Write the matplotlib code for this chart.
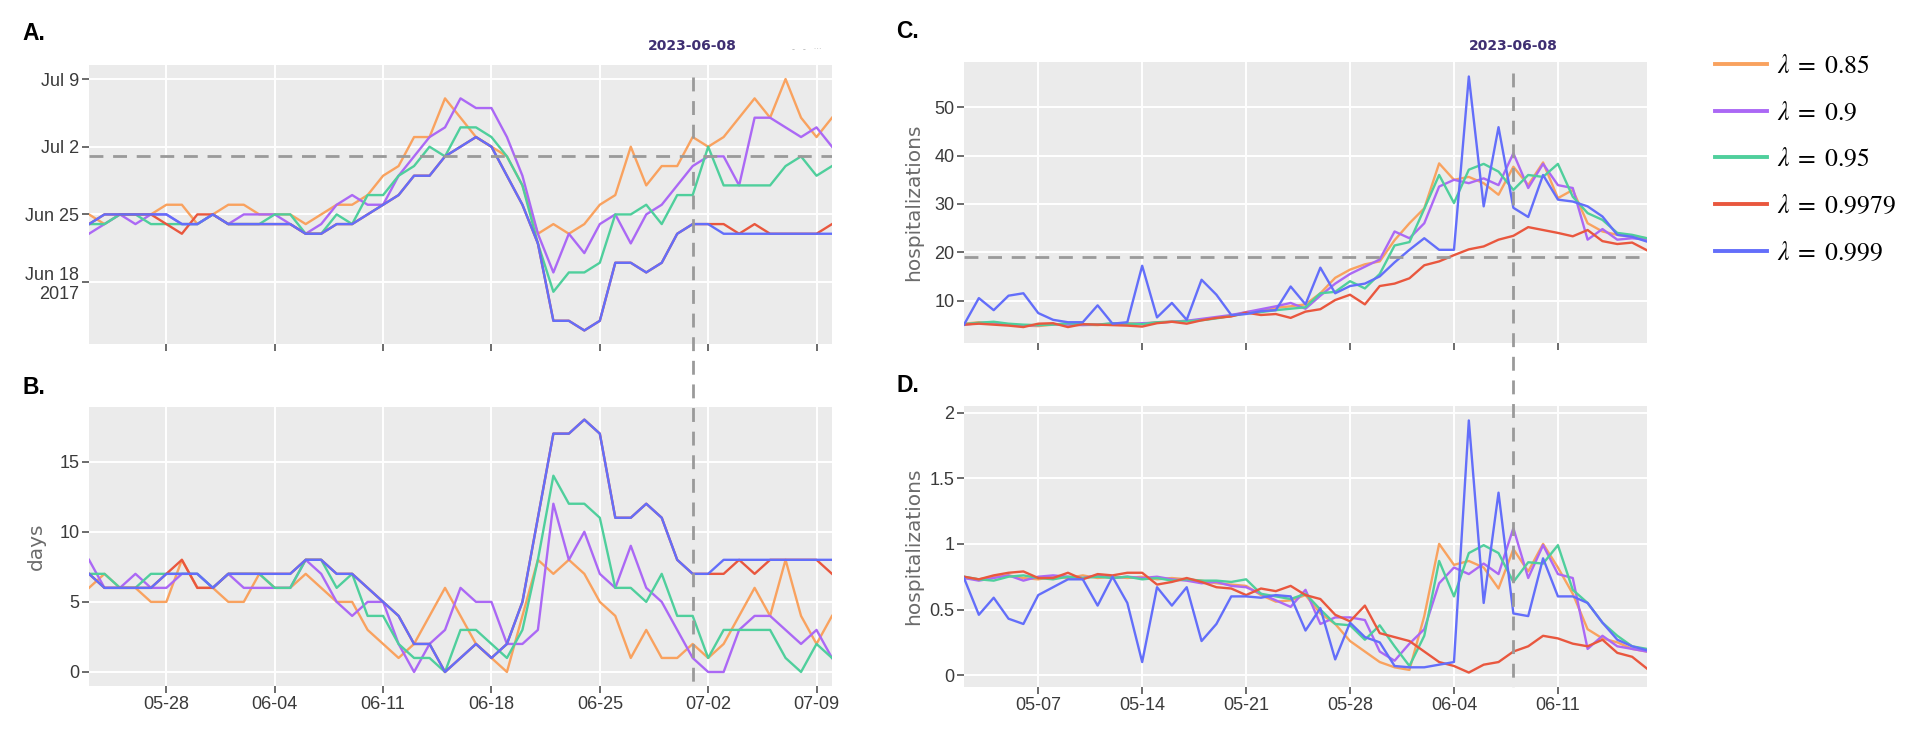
import numpy as np
import pandas as pd
import matplotlib
matplotlib.use("Agg")
import matplotlib.pyplot as plt
import matplotlib.dates as mdates
import matplotlib.transforms as mtransforms
from matplotlib.lines import Line2D

# ---------------- data ----------------
labels = [r"$\lambda\;=\;0.85$", r"$\lambda\;=\;0.9$", r"$\lambda\;=\;0.95$",
          r"$\lambda\;=\;0.9979$", r"$\lambda\;=\;0.999$"]
colors = ["#F9A25F", "#AB68F5", "#4FCF9C", "#E9573E", "#636EFA"]

ab_dates = pd.date_range("2023-05-23", "2023-07-10", freq="D")
cd_dates = pd.date_range("2023-05-02", "2023-06-17", freq="D")

# Panel A: estimated date, as day offsets from 2017-06-25
a_ref = pd.Timestamp("2017-06-25")
a_085 = [0, -1, 0, 0, 0, 1, 1, -1, 0, 1, 1, 0, 0, 0, -1, 0, 1, 1, 2, 4, 5, 8, 8, 12, 10,
         8, 7, 6, 3, -2, -1, -2, -1, 1, 2, 7, 3, 5, 5, 8, 7, 8, 10, 12, 10, 14, 10, 8, 10]
a_090 = [-2, -1, 0, -1, 0, 0, -1, -1, 0, -1, 0, 0, 0, -1, -2, -1, 1, 2, 1, 1, 4, 6, 8, 9, 12,
         11, 11, 8, 4, -2, -6, -2, -4, -1, 0, -3, 0, 1, 3, 5, 6, 6, 3, 10, 10, 9, 8, 9, 7]
a_095 = [-1, -1, 0, 0, -1, -1, -1, -1, 0, -1, -1, -1, 0, 0, -2, -2, 0, -1, 2, 2, 4, 5, 7, 6, 9,
         9, 8, 6, 3, -3, -8, -6, -6, -5, 0, 0, 1, -1, 2, 2, 7, 3, 3, 3, 3, 5, 6, 4, 5]
a_09979 = [-1, 0, 0, 0, 0, -1, -2, 0, 0, -1, -1, -1, -1, -1, -2, -2, -1, -1, 0, 1, 2, 4, 4, 6, 7,
           8, 7, 4, 1, -3, -11, -11, -12, -11, -5, -5, -6, -5, -2, -1, -1, -1, -2, -1, -2, -2, -2, -2, -1]
a_0999 = [-1, 0, 0, 0, 0, 0, -1, -1, 0, -1, -1, -1, -1, -1, -2, -2, -1, -1, 0, 1, 2, 4, 4, 6, 7,
          8, 7, 4, 1, -3, -11, -11, -12, -11, -5, -5, -6, -5, -2, -1, -1, -2, -2, -2, -2, -2, -2, -2, -2]

# Panel B: days
b_085 = [6, 7, 6, 6, 5, 5, 8, 6, 6, 5, 5, 7, 6, 6, 7, 6, 5, 5, 3, 2, 1, 2, 4, 6, 4,
         2, 1, 0, 4, 8, 7, 8, 7, 5, 4, 1, 3, 1, 1, 2, 1, 2, 4, 6, 4, 8, 4, 2, 4]
b_090 = [8, 6, 6, 7, 6, 6, 7, 7, 6, 7, 6, 6, 6, 6, 8, 7, 5, 4, 5, 5, 2, 0, 2, 3, 6,
         5, 5, 2, 2, 3, 12, 8, 10, 7, 6, 9, 6, 5, 3, 1, 0, 0, 3, 4, 4, 3, 2, 3, 1]
b_095 = [7, 7, 6, 6, 7, 7, 7, 7, 6, 7, 7, 7, 6, 6, 8, 8, 6, 7, 4, 4, 2, 1, 1, 0, 3,
         3, 2, 1, 3, 8, 14, 12, 12, 11, 6, 6, 5, 7, 4, 4, 1, 3, 3, 3, 3, 1, 0, 2, 1]
b_09979 = [7, 6, 6, 6, 6, 7, 8, 6, 6, 7, 7, 7, 7, 7, 8, 8, 7, 7, 6, 5, 4, 2, 2, 0, 1,
           2, 1, 2, 5, 11, 17, 17, 18, 17, 11, 11, 12, 11, 8, 7, 7, 7, 8, 7, 8, 8, 8, 8, 7]
b_0999 = [7, 6, 6, 6, 6, 7, 7, 7, 6, 7, 7, 7, 7, 7, 8, 8, 7, 7, 6, 5, 4, 2, 2, 0, 1,
          2, 1, 2, 5, 11, 17, 17, 18, 17, 11, 11, 12, 11, 8, 7, 7, 8, 8, 8, 8, 8, 8, 8, 8]

# Panel C: hospitalizations
c_085 = [5.2, 5.5, 5.2, 5.0, 4.8, 4.7, 5.0, 5.2, 5.0, 4.9, 5.2, 5.3, 5.2, 5.5, 5.6, 5.8,
         6.0, 6.4, 6.8, 7.6, 7.8, 8.5, 8.8, 9.2, 11.5, 14.7, 16.4, 17.5, 18.1, 22.5, 26.0,
         29.1, 38.4, 35.0, 35.6, 34.3, 31.9, 37.7, 33.9, 38.6, 31.2, 32.9, 26.0, 24.3, 23.6, 23.2, 22.9]
c_090 = [5.0, 5.3, 5.5, 5.0, 4.8, 4.9, 5.1, 5.0, 4.9, 5.0, 5.2, 5.1, 5.3, 5.4, 5.6, 5.8,
         6.2, 6.6, 7.0, 7.6, 8.2, 8.8, 9.5, 8.3, 11.0, 13.5, 15.5, 17.0, 18.5, 24.3, 22.9,
         26.0, 33.6, 35.0, 34.3, 35.3, 33.9, 40.5, 33.3, 38.3, 33.9, 33.3, 22.6, 24.8, 22.6, 22.9, 22.6]
c_095 = [5.1, 5.4, 5.6, 5.2, 5.0, 4.9, 5.0, 5.3, 5.1, 5.0, 5.3, 5.2, 5.1, 5.5, 5.6, 5.7,
         5.9, 6.3, 6.8, 7.3, 7.6, 8.0, 8.3, 8.6, 11.5, 11.8, 14.0, 12.5, 15.5, 21.4, 22.1,
         29.0, 36.0, 30.2, 37.1, 38.3, 36.7, 32.9, 36.0, 35.6, 38.3, 31.5, 28.1, 26.7, 24.0, 23.6, 22.9]
c_09979 = [5.0, 5.2, 5.0, 4.8, 4.5, 5.2, 5.3, 4.5, 5.1, 5.0, 4.9, 4.8, 4.6, 5.3, 5.6, 5.2,
           5.9, 6.4, 6.7, 7.5, 7.0, 7.2, 6.4, 7.7, 8.2, 10.1, 11.2, 9.2, 13.0, 13.5, 14.6,
           17.3, 18.1, 19.4, 20.6, 21.2, 22.6, 23.4, 25.2, 24.6, 24.0, 23.3, 24.6, 22.3, 21.7, 22.0, 20.4]
c_0999 = [5.0, 10.5, 8.0, 11.0, 11.5, 7.4, 6.0, 5.5, 5.5, 9.0, 5.2, 5.5, 17.2, 6.5, 9.5, 6.0,
          14.3, 11.2, 7.0, 7.2, 7.8, 8.0, 12.9, 9.2, 16.8, 11.5, 13.0, 13.5, 15.0, 17.9, 20.5,
          22.9, 20.5, 20.5, 56.4, 29.5, 45.9, 29.2, 27.3, 36.0, 30.9, 30.5, 29.5, 27.4, 23.6, 23.2, 22.2]

# Panel D: hospitalizations
d_085 = [0.74, 0.73, 0.75, 0.76, 0.74, 0.73, 0.75, 0.74, 0.76, 0.74, 0.75, 0.74, 0.75, 0.73,
         0.74, 0.73, 0.72, 0.70, 0.69, 0.68, 0.61, 0.56, 0.57, 0.61, 0.47, 0.39, 0.26, 0.18,
         0.10, 0.06, 0.04, 0.45, 1.00, 0.84, 0.87, 0.82, 0.66, 0.96, 0.79, 1.00, 0.82, 0.62,
         0.35, 0.28, 0.25, 0.20, 0.18]
d_090 = [0.74, 0.72, 0.74, 0.76, 0.72, 0.75, 0.76, 0.75, 0.74, 0.76, 0.74, 0.75, 0.74, 0.75,
         0.73, 0.72, 0.70, 0.71, 0.68, 0.67, 0.62, 0.57, 0.52, 0.65, 0.39, 0.44, 0.44, 0.42,
         0.18, 0.11, 0.24, 0.35, 0.70, 0.82, 0.77, 0.85, 0.77, 1.12, 0.74, 0.99, 0.77, 0.74,
         0.20, 0.30, 0.22, 0.20, 0.18]
d_095 = [0.75, 0.73, 0.72, 0.75, 0.76, 0.74, 0.73, 0.75, 0.74, 0.75, 0.74, 0.75, 0.73, 0.74,
         0.72, 0.73, 0.72, 0.72, 0.71, 0.73, 0.62, 0.60, 0.58, 0.62, 0.50, 0.39, 0.38, 0.27,
         0.38, 0.22, 0.07, 0.30, 0.87, 0.60, 0.93, 0.99, 0.93, 0.71, 0.86, 0.85, 0.99, 0.65,
         0.55, 0.40, 0.30, 0.22, 0.20]
d_09979 = [0.75, 0.73, 0.76, 0.78, 0.79, 0.74, 0.74, 0.78, 0.73, 0.77, 0.76, 0.78, 0.78, 0.69,
           0.71, 0.74, 0.71, 0.67, 0.66, 0.61, 0.66, 0.64, 0.68, 0.61, 0.58, 0.46, 0.41, 0.53,
           0.32, 0.29, 0.26, 0.18, 0.10, 0.07, 0.02, 0.08, 0.10, 0.18, 0.22, 0.30, 0.28, 0.24,
           0.22, 0.27, 0.17, 0.14, 0.05]
d_0999 = [0.74, 0.46, 0.59, 0.43, 0.39, 0.61, 0.67, 0.73, 0.73, 0.53, 0.75, 0.55, 0.10, 0.67,
          0.53, 0.67, 0.26, 0.39, 0.60, 0.60, 0.59, 0.61, 0.60, 0.34, 0.51, 0.12, 0.40, 0.29,
          0.25, 0.07, 0.06, 0.06, 0.08, 0.10, 1.94, 0.55, 1.39, 0.47, 0.45, 0.89, 0.60, 0.60,
          0.55, 0.40, 0.27, 0.22, 0.19]

a_series = [a_085, a_090, a_095, a_09979, a_0999]
b_series = [b_085, b_090, b_095, b_09979, b_0999]
c_series = [c_085, c_090, c_095, c_09979, c_0999]
d_series = [d_085, d_090, d_095, d_09979, d_0999]

ab_cut = pd.Timestamp("2023-07-01")
cd_cut = pd.Timestamp("2023-06-08")
a_threshold = pd.Timestamp("2017-07-01")
c_threshold = 19

# ---------------- figure ----------------
W, H = 1928, 746
plt.rcParams["mathtext.fontset"] = "stix"
fig = plt.figure(figsize=(W / 100, H / 100), dpi=100)

def fx(px):
    return px / W

def fy(py):
    return 1 - py / H

def rect(l, t, r, b):
    return [fx(l), fy(b), fx(r) - fx(l), fy(t) - fy(b)]

axA = fig.add_axes(rect(89, 65, 832, 344))
axB = fig.add_axes(rect(89, 407, 832, 686))
axC = fig.add_axes(rect(964, 62, 1647, 343))
axD = fig.add_axes(rect(964, 406, 1647, 687))

TICKFONT = ["Liberation Sans", "DejaVu Sans"]

def style(ax):
    ax.set_facecolor("#EBEBEB")
    for s in ax.spines.values():
        s.set_visible(False)
    ax.grid(True, color="white", linewidth=1.4)
    ax.set_axisbelow(True)
    ax.tick_params(direction="out", length=5, width=1.1, color="#444444",
                   labelcolor="#3a3a3a", labelsize=13, pad=2)
    for lab in ax.get_xticklabels() + ax.get_yticklabels():
        lab.set_family(TICKFONT)

lw = 1.7
for vals, col in zip(a_series, colors):
    axA.plot(ab_dates, a_ref + pd.to_timedelta(vals, unit="D"), color=col, lw=lw)
for vals, col in zip(b_series, colors):
    axB.plot(ab_dates, vals, color=col, lw=lw)
handles = []
for vals, col, lab in zip(c_series, colors, labels):
    h, = axC.plot(cd_dates, vals, color=col, lw=lw, label=lab)
    handles.append(h)
for vals, col in zip(d_series, colors):
    axD.plot(cd_dates, vals, color=col, lw=lw)

dash_kw = dict(color="#9a9a9a", lw=2.0, dashes=(5, 3.5))
axA.axhline(a_threshold, **dash_kw)
axC.axhline(c_threshold, **dash_kw)

# x axes
for ax, dts in ((axA, ab_dates), (axB, ab_dates), (axC, cd_dates), (axD, cd_dates)):
    ax.set_xlim(dts[0], dts[-1])
    ax.xaxis.set_major_locator(mdates.WeekdayLocator(byweekday=mdates.SU))
    ax.xaxis.set_major_formatter(mdates.DateFormatter("%m-%d"))
for ax in (axA, axC):
    ax.tick_params(axis="x", labelbottom=False)

# A y axis (dates)
a_ticks = pd.to_datetime(["2017-06-18", "2017-06-25", "2017-07-02", "2017-07-09"])
axA.set_yticks(mdates.date2num(a_ticks))
axA.set_yticklabels(["Jun 18\n2017", "Jun 25", "Jul 2", "Jul 9"], linespacing=1.15)
axA.set_ylim(mdates.date2num(pd.Timestamp("2017-06-11")) + 0.6,
             mdates.date2num(pd.Timestamp("2017-07-10")) + 0.45)

axB.set_yticks([0, 5, 10, 15])
axB.set_ylim(-1.0, 18.9)
axC.set_yticks([10, 20, 30, 40, 50])
axC.set_ylim(1.2, 59.4)
axD.set_yticks([0, 0.5, 1, 1.5, 2])
axD.set_yticklabels(["0", "0.5", "1", "1.5", "2"])
axD.set_ylim(-0.09, 2.05)

for ax in (axA, axB, axC, axD):
    style(ax)

# vertical dashed marker lines spanning both panels
for ax_top, cut, y_top, y_bot in ((axA, ab_cut, 77, 686), (axC, cd_cut, 73, 687)):
    tr = mtransforms.blended_transform_factory(ax_top.transData, fig.transFigure)
    xv = mdates.date2num(cut)
    fig.add_artist(Line2D([xv, xv], [fy(y_top), fy(y_bot)], transform=tr, **dash_kw))
    fig.text(xv, fy(46), "2023-06-08", transform=tr, ha="center", va="center",
             fontsize=10, fontweight="bold", color="#3f2f72", family="DejaVu Sans")
# faint leftover annotation next to the A marker label
fig.text(fx(792), fy(49), "-   -   ···", ha="left", va="center", fontsize=6,
         color="#b5b5b5")

# axis titles
ylab_kw = dict(rotation=90, ha="center", va="center", fontsize=14.5, color="#6b6b6b",
               family="DejaVu Sans")
fig.text(fx(36), fy(546), "days", **ylab_kw)
fig.text(fx(914), fy(202), "hospitalizations", **ylab_kw)
fig.text(fx(914), fy(546), "hospitalizations", **ylab_kw)

# panel letters
let_kw = dict(fontsize=16.5, fontweight="bold", color="black", ha="left", va="center",
              family=["Liberation Sans", "DejaVu Sans"])
fig.text(fx(22), fy(33), "A.", **let_kw)
fig.text(fx(22), fy(387), "B.", **let_kw)
fig.text(fx(896), fy(32), "C.", **let_kw)
fig.text(fx(896), fy(385), "D.", **let_kw)

leg = fig.legend(handles=handles, labels=labels, loc="upper left",
                 bbox_to_anchor=(fx(1705), fy(43)), frameon=False, fontsize=18.5,
                 handlelength=2.0, handletextpad=0.4, labelspacing=0.8,
                 borderaxespad=0)
for ln in leg.get_lines():
    ln.set_linewidth(2.8)

fig.savefig("out.png", dpi=100)
